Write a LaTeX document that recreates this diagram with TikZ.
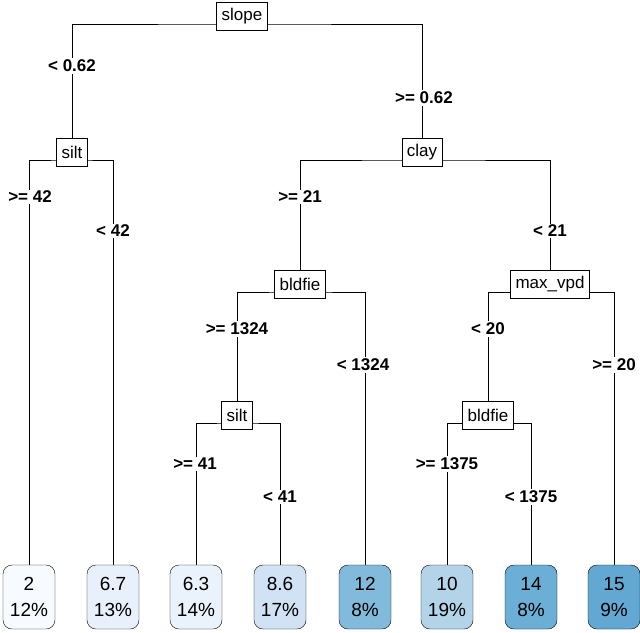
\documentclass[tikz,border=0pt]{standalone}
\usepackage{fontspec}
\setmainfont{Liberation Sans}
\begin{document}
\begin{tikzpicture}[x=1pt,y=-1pt,
  split/.style={draw,fill=white,inner xsep=5pt,inner ysep=2pt,minimum height=28pt,font=\fontsize{17}{19}\selectfont},
  lab/.style={fill=white,inner sep=1.5pt,font=\bfseries\fontsize{17}{19}\selectfont},
  leaf/.style={draw,rounded corners=9pt,minimum width=52pt,minimum height=64pt,align=center,inner sep=1pt,font=\fontsize{19}{26}\selectfont},
  edge/.style={draw,line width=0.8pt}]
\useasboundingbox (0,0) rectangle (640,632);
\node[leaf,fill={rgb,255:red,247;green,251;blue,255}] (l1) at (29,597) {2\\12\%};
\node[leaf,fill={rgb,255:red,232;green,241;blue,251}] (l2) at (113,597) {6.7\\13\%};
\node[leaf,fill={rgb,255:red,234;green,242;blue,251}] (l3) at (196,597) {6.3\\14\%};
\node[leaf,fill={rgb,255:red,208;green,226;blue,243}] (l4) at (280,597) {8.6\\17\%};
\node[leaf,fill={rgb,255:red,130;green,186;blue,219}] (l5) at (365,597) {12\\8\%};
\node[leaf,fill={rgb,255:red,179;green,211;blue,232}] (l6) at (447,597) {10\\19\%};
\node[leaf,fill={rgb,255:red,107;green,174;blue,214}] (l7) at (531,597) {14\\8\%};
\node[leaf,fill={rgb,255:red,99;green,168;blue,211}] (l8) at (614,597) {15\\9\%};
\coordinate (ch) at (242,24);
\coordinate (sh) at (72,160);
\coordinate (clh) at (422,160);
\coordinate (bh) at (300,292);
\coordinate (mh) at (550,292);
\coordinate (s2h) at (237,423);
\coordinate (b2h) at (488,423);
\draw[edge] (l1.north) |- (sh) -| (l2.north);
\draw[edge] (l3.north) |- (s2h) -| (l4.north);
\draw[edge] (l6.north) |- (b2h) -| (l7.north);
\draw[edge] (237,405) |- (bh) -| (l5.north);
\draw[edge] (488,405) |- (mh) -| (l8.north);
\draw[edge] (300,275) |- (clh) -| (550,275);
\draw[edge] (72,145) |- (ch) -| (422,145);
\node[split] (slope) at (242,16) {slope};
\node[split] (silt) at (72,152) {silt};
\node[split] (clay) at (422,152) {clay};
\node[split] (bldfie) at (300,284) {bldfie};
\node[split] (maxvpd) at (550,284) {max\_vpd};
\node[split] (silt2) at (237,415) {silt};
\node[split] (bldfie2) at (488,415) {bldfie};
\node[lab] (a1) at (72,66) {< 0.62};
\node[lab] (a2) at (424,98) {>= 0.62};
\node[lab] (a3) at (30,197) {>= 42};
\node[lab] (a4) at (113,231) {< 42};
\node[lab] (a5) at (300,197) {>= 21};
\node[lab] (a6) at (550,231) {< 21};
\node[lab] (a7) at (237,329) {>= 1324};
\node[lab] (a8) at (363,365) {< 1324};
\node[lab] (a9) at (488,329) {< 20};
\node[lab] (a10) at (614,365) {>= 20};
\node[lab] (a11) at (195,464) {>= 41};
\node[lab] (a12) at (280,497) {< 41};
\node[lab] (a13) at (447,464) {>= 1375};
\node[lab] (a14) at (531,497) {< 1375};
\end{tikzpicture}
\end{document}
